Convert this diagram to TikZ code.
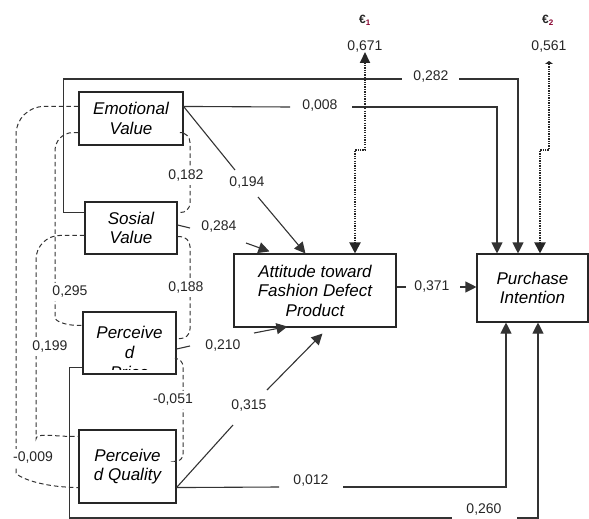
\documentclass[tikz,border=0pt]{standalone}
\usepackage{fontspec}
\setmainfont{Liberation Sans}
\usetikzlibrary{arrows.meta,calc}
\begin{document}
\begin{tikzpicture}[x=1pt,y=-1pt,
  box/.style={draw=black!85,line width=1.1pt,fill=white,inner sep=0pt,align=center,font=\fontsize{17}{19.5}\selectfont\itshape},
  conn/.style={draw=black!80,line width=1.1pt},
  arr/.style={conn,-{Triangle[length=11pt,width=11pt]}},
  corr/.style={draw=black!80,line width=1pt,dash pattern=on 4.5pt off 3pt,rounded corners=#1},
  lab/.style={font=\fontsize{14}{16}\selectfont,text=black!85,inner sep=1pt},
  dlab/.style={lab,fill=white,inner sep=3pt},
  errline/.style={draw=black!85,line width=2pt,dash pattern=on 1.3pt off 1.1pt}
]
\useasboundingbox (0,0) rectangle (589,519);

% boxes
\node[box,minimum width=104pt,minimum height=53pt] (emo) at (131,118.5) {Emotional\\Value};
\node[box,minimum width=92pt,minimum height=52pt] (sos) at (131,228) {Sosial\\Value};
\node[box,minimum width=93pt,minimum height=62pt] (pri) at (129.5,343) {};
\begin{scope}
  \clip ($(pri.south west)+(0,-5)$) rectangle (pri.north east);
  \node[align=center,anchor=north,inner sep=0pt,font=\fontsize{17}{20}\selectfont\itshape] (pritext) at ($(pri.north)+(0,15)$) {Perceive\\d\\Price};
\end{scope}
\node[box,minimum width=97pt,minimum height=73pt] (qua) at (127.5,466.5) {Perceive\\d Quality};
\node[box,minimum width=162pt,minimum height=73pt] (att) at (315,290.5) {Attitude toward\\Fashion Defect\\Product};
\node[box,minimum width=111pt,minimum height=68pt] (pin) at (532.5,288) {Purchase\\Intention};

% error terms
\node[font=\fontsize{12}{14}\selectfont\bfseries,text=black!85] (e1) at (365,20) {€\textsubscript{\color{violet!50!red!70!black}1}};
\node[font=\fontsize{12}{14}\selectfont\bfseries,text=black!85] (e2) at (548,20) {€\textsubscript{\color{violet!50!red!70!black}2}};
\node[lab] (v1) at (365,47) {0,671};
\node[lab] (v2) at (549,47) {0,561};

% correlations (dashed)
\draw[corr=28pt] ($(emo.north west)+(0,15)$) -| (16,445) .. controls (16,475) and (35,487) .. ($(qua.south west)+(0,-16)$);
\draw[corr=18pt] ($(emo.south west)+(0,-13)$) -| (55,300) .. controls (55,320) and (63,326) .. ($(pri.north west)+(0,14)$);
\draw[corr=24pt] ($(sos.north west)+(0,34)$) -| (36,415) .. controls (36,432) and (55,437) .. ($(qua.north west)+(0,7)$);
\draw[corr=10pt] ($(emo.south east)+(0,-13)$) -| (190,213) -- ($(sos.north east)+(0,11)$);
\draw[corr=10pt] ($(sos.south east)+(0,-18)$) -| (190,339) -- ($(pri.north east)+(0,27)$);
\draw[corr=8pt] ($(pri.north east)+(0,47)$) -| (183,462) -- ($(qua.north east)+(0,32)$);
\node[dlab] (c009) at (33,458) {-0,009};
\node[dlab] (c295) at (70,292) {0,295};
\node[dlab] (c199) at (50,347) {0,199};
\node[dlab] (c182) at (186,176) {0,182};
\node[dlab] (c188) at (186,288) {0,188};
\node[dlab] (c051) at (173,400) {-0,051};

% Sosial -> Purchase (0,282)
\coordinate (g282a) at (402,79);
\coordinate (g282b) at (459,79);
\draw[conn] ($(sos.north west)+(0,11)$) -- ++(-21,0) |- (g282a);
\node[lab] (l282) at (431,77) {0,282};
\draw[arr] (g282b) -| ($(pin.north)+(-14.5,0)$);

% Emotional -> Purchase (0,008)
\coordinate (g008a) at (290,107);
\coordinate (g008b) at (352,107);
\draw[conn] ($(emo.north east)+(0,15)$) -- (g008a);
\node[lab] (l008) at (320,106) {0,008};
\draw[arr] (g008b) -| ($(pin.north)+(-35.5,0)$);

% Quality -> Purchase (0,012)
\coordinate (g012a) at (279,487);
\coordinate (g012b) at (343,487);
\draw[conn] ($(qua.south east)+(0,-16)$) -- (g012a);
\node[lab] (l012) at (311,481) {0,012};
\draw[arr] (g012b) -| ($(pin.south)+(-26.5,0)$);

% Price -> Purchase (0,260)
\coordinate (g260a) at (452,518);
\coordinate (g260b) at (517,518);
\draw[conn] ($(pri.south west)+(0,-7)$) -- ++(-13,0) |- (g260a);
\node[lab] (l260) at (484,510) {0,260};
\draw[arr] (g260b) -| ($(pin.south)+(5.5,0)$);

% Attitude -> Purchase (0,371)
\draw[conn] ($(att.east)+(0,-3.5)$) -- ++(9,0);
\node[lab] (l371) at (432,287) {0,371};
\draw[arr] ($(pin.west)+(-16,-1)$) -- ($(pin.west)+(0,-1)$);

% Emotional -> Attitude (0,194)
\coordinate (g194a) at (235,170);
\coordinate (g194b) at (258,197);
\draw[conn] ($(emo.north east)+(0,15)$) -- (g194a);
\node[lab] (l194) at (247,183) {0,194};
\draw[arr] (g194b) -- ($(att.north west)+(72,0)$);

% Sosial -> Attitude (0,284)
\coordinate (g284a) at (190,228);
\coordinate (g284b) at (246,243);
\draw[conn] ($(sos.east)+(0,-3)$) -- (g284a);
\node[lab] (l284) at (219,227) {0,284};
\draw[arr] (g284b) -- ($(att.north west)+(36,-2)$);

% Price -> Attitude (0,210)
\coordinate (g210a) at (190,346);
\coordinate (g210b) at (254,333);
\draw[conn] ($(pri.east)+(0,6)$) -- (g210a);
\node[lab] (l210) at (223,346) {0,210};
\draw[arr] (g210b) -- ($(att.south west)+(54,-1)$);

% Quality -> Attitude (0,315)
\coordinate (g315a) at (233,425);
\coordinate (g315b) at (267,390);
\draw[conn] ($(qua.south east)+(0,-16)$) -- (g315a);
\node[lab] (l315) at (249,406) {0,315};
\draw[arr] (g315b) -- ($(att.south west)+(89,6)$);

% error arrows (dotted)
\coordinate (t1) at (365,52);
\coordinate (t2) at (549,61);
\draw[errline,{Triangle[length=11pt,width=10pt]}-{Triangle[length=11pt,width=11pt]}] (t1) -- (365,150) -- (355,150) -- ($(att.north)+(40,0)$);
\draw[errline,{Triangle[length=3pt,width=8pt]}-{Triangle[length=11pt,width=11pt]}] (t2) -- (549,150) -- (540,150) -- ($(pin.north)+(7.5,0)$);
\end{tikzpicture}
\end{document}
